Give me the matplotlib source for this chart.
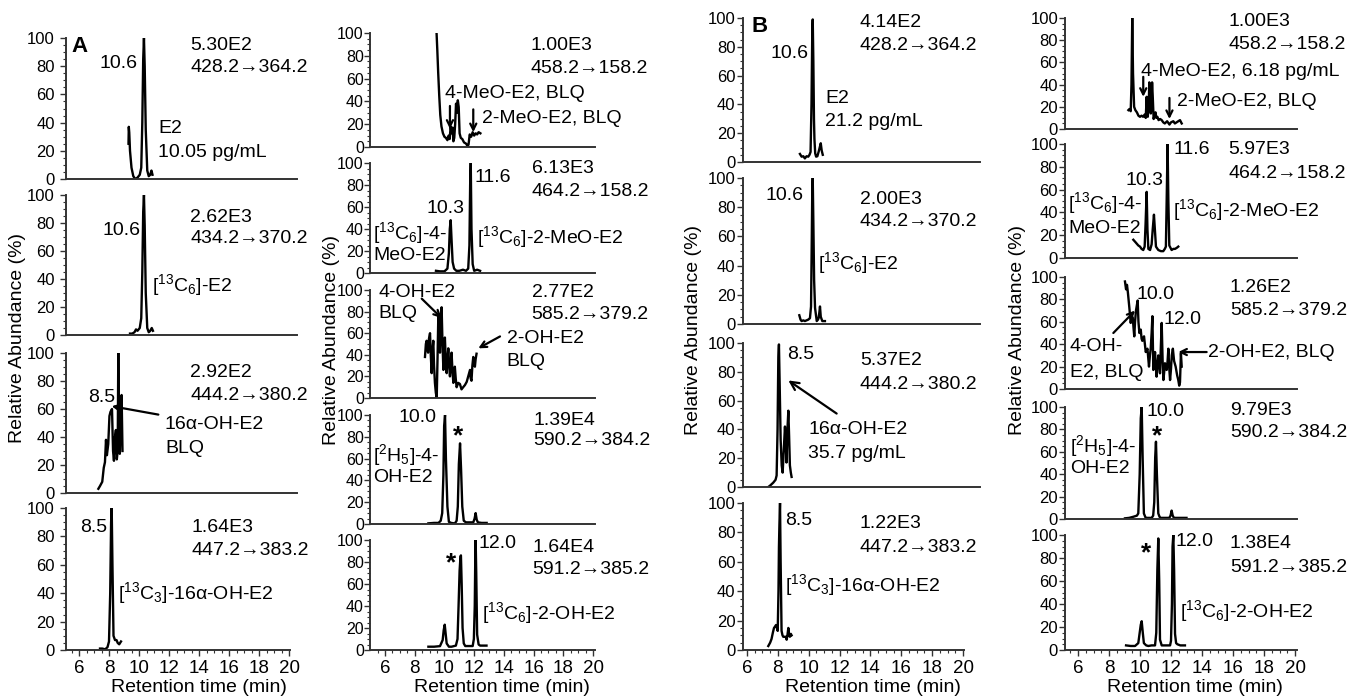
import numpy as np
import matplotlib
matplotlib.use("Agg")
import matplotlib.pyplot as plt
from matplotlib.ticker import MultipleLocator, FixedLocator

plt.rcParams["font.family"] = ["Liberation Sans", "DejaVu Sans"]
plt.rcParams["mathtext.fontset"] = "custom"
plt.rcParams["mathtext.rm"] = "Liberation Sans"
plt.rcParams["mathtext.it"] = "Liberation Sans:italic"
plt.rcParams["mathtext.bf"] = "Liberation Sans:bold"

# ---- traces: retention time (min) / relative abundance (%) ----
# A, left column
e2_A_t = [9.30, 9.32, 9.35, 9.40, 9.50, 9.62, 9.75, 9.90, 10.05, 10.15, 10.22, 10.28, 10.33, 10.38, 10.45, 10.55, 10.65, 10.75, 10.83, 10.90]
e2_A_y = [25, 37, 33, 20, 8, 2, 0, 1, 3, 8, 40, 85, 100, 80, 35, 6, 2, 3, 6, 3]
c13e2_A_t = [9.40, 9.55, 9.70, 9.80, 9.90, 10.05, 10.15, 10.22, 10.28, 10.33, 10.38, 10.45, 10.55, 10.65, 10.75, 10.85, 10.93]
c13e2_A_y = [1, 1, 2, 4, 3, 5, 12, 45, 88, 100, 78, 30, 5, 2, 3, 5, 3]
oh16_A_t = [7.29, 7.40, 7.55, 7.65, 7.73, 7.80, 7.86, 7.95, 8.03, 8.10, 8.20, 8.27, 8.33, 8.40, 8.46, 8.52, 8.58, 8.62, 8.67, 8.72, 8.80, 8.84, 8.90]
oh16_A_y = [3, 5, 8, 18, 22, 38, 27, 35, 55, 58, 60, 30, 23, 40, 45, 24, 30, 100, 30, 28, 60, 70, 30]
c13oh16_A_t = [7.40, 7.55, 7.75, 7.90, 8.00, 8.08, 8.14, 8.18, 8.23, 8.30, 8.40, 8.50, 8.58, 8.68, 8.80]
c13oh16_A_y = [1, 1, 0.5, 2, 6, 40, 90, 100, 60, 10, 7, 7, 5, 4, 6]

# A, right column
meo_A_t = [9.47, 9.52, 9.58, 9.65, 9.72, 9.80, 9.90, 10.00, 10.10, 10.20, 10.28, 10.35, 10.42, 10.48, 10.55, 10.60, 10.66, 10.72, 10.78, 10.84, 10.90, 10.96, 11.02, 11.10, 11.20, 11.32, 11.45, 11.55, 11.62, 11.70, 11.80, 11.90, 12.00, 12.10, 12.20, 12.30, 12.42]
meo_A_y = [100, 85, 65, 45, 28, 18, 12, 9, 8, 6, 10, 7, 18, 12, 17, 5, 8, 20, 38, 30, 41, 35, 12, 8, 7, 4, 3, 1, 2, 11, 9, 13, 10, 12, 11, 13, 12]
c13meo_A_t = [9.43, 9.70, 10.00, 10.20, 10.30, 10.36, 10.42, 10.48, 10.55, 10.65, 10.80, 11.00, 11.25, 11.45, 11.60, 11.68, 11.73, 11.77, 11.82, 11.90, 12.00, 12.20, 12.40]
c13meo_A_y = [2, 1.5, 1.5, 4, 18, 40, 48, 30, 10, 4, 2, 2, 3, 2, 4, 25, 80, 100, 40, 8, 2, 3, 2]
oh_A_t = [8.69, 8.75, 8.80, 8.85, 8.90, 8.96, 9.03, 9.08, 9.14, 9.20, 9.25, 9.30, 9.36, 9.42, 9.48, 9.54, 9.59, 9.64, 9.70, 9.76, 9.81, 9.87, 9.93, 9.98, 10.03, 10.09, 10.15, 10.20, 10.26, 10.32, 10.37, 10.43, 10.48, 10.54, 10.60, 10.65, 10.70, 10.76, 10.82, 10.93, 11.04, 11.15, 11.26, 11.38, 11.50, 11.60, 11.72, 11.77, 11.82, 11.88, 11.94, 12.00, 12.05, 12.10, 12.16]
oh_A_y = [38, 50, 53, 45, 42, 55, 60, 40, 23, 45, 53, 30, 14, 5, 0, 40, 78, 60, 42, 70, 84, 50, 26, 40, 56, 35, 23, 35, 46, 30, 20, 30, 42, 25, 14, 22, 29, 18, 10, 14, 13, 8, 10, 12, 15, 20, 26, 18, 16, 30, 38, 32, 29, 36, 41]
h5oh4_A_t = [8.92, 9.30, 9.60, 9.75, 9.85, 9.93, 9.98, 10.04, 10.10, 10.20, 10.30, 10.45, 10.70, 10.82, 10.90, 10.97, 11.05, 11.12, 11.20, 11.30, 11.45, 11.70, 11.94, 12.03, 12.10, 12.17, 12.25, 12.50, 12.84]
h5oh4_A_y = [0.6, 1, 1, 3, 10, 45, 90, 100, 60, 16, 2, 1, 0.5, 3, 16, 55, 74, 50, 16, 3, 1.5, 1.5, 1.5, 5, 10, 4, 1.5, 1, 1]
c13oh2_A_t = [8.92, 9.30, 9.70, 9.88, 9.95, 10.02, 10.08, 10.15, 10.30, 10.48, 10.77, 10.88, 10.95, 11.02, 11.08, 11.11, 11.16, 11.22, 11.30, 11.40, 11.60, 11.90, 11.98, 12.04, 12.08, 12.10, 12.14, 12.20, 12.30, 12.40, 12.60, 12.83]
c13oh2_A_y = [3, 3, 3.5, 9, 18, 23, 15, 6, 3, 3, 4, 10, 40, 72, 85, 86, 60, 20, 6, 3.6, 3.6, 3.6, 10, 40, 90, 100, 70, 14, 5, 4, 4, 4]

# B, left column
e2_B_t = [9.43, 9.54, 9.65, 9.75, 9.86, 9.97, 10.05, 10.12, 10.18, 10.23, 10.26, 10.30, 10.34, 10.37, 10.42, 10.48, 10.56, 10.64, 10.71, 10.78, 10.84, 10.91]
e2_B_y = [5.6, 3.7, 4, 2.5, 4, 3.7, 5, 7, 40, 90, 99, 70, 30, 16, 6, 3.7, 4, 7, 10, 13, 8, 5]
c13e2_B_t = [9.39, 9.47, 9.54, 9.65, 9.75, 9.86, 9.97, 10.08, 10.15, 10.20, 10.23, 10.26, 10.30, 10.35, 10.41, 10.52, 10.60, 10.64, 10.69, 10.73, 10.78, 10.88, 11.05]
c13e2_B_y = [6, 3, 2, 2.5, 2, 2.5, 3, 4, 12, 60, 92, 100, 70, 30, 11, 2, 3, 4, 8, 12, 5, 2, 2]
oh16_B_t = [7.38, 7.50, 7.70, 7.85, 7.92, 7.98, 8.03, 8.07, 8.12, 8.18, 8.25, 8.31, 8.38, 8.46, 8.51, 8.56, 8.62, 8.68, 8.73, 8.78, 8.84, 8.89]
oh16_B_y = [0, 1, 3, 5, 8, 40, 90, 99, 70, 33, 15, 10, 25, 42, 30, 17, 40, 53, 35, 15, 10, 7]
c13oh16_B_t = [7.38, 7.50, 7.59, 7.68, 7.75, 7.82, 7.88, 7.94, 7.99, 8.04, 8.07, 8.10, 8.14, 8.18, 8.24, 8.30, 8.35, 8.45, 8.52, 8.57, 8.62, 8.68, 8.73, 8.78, 8.84, 8.89]
c13oh16_B_y = [2.7, 5, 7.5, 12, 15, 16, 17, 15, 13, 40, 70, 85, 100, 60, 13, 10, 9, 9, 9, 7, 10, 15, 10, 9, 11, 10]

# B, right column
meo_B_t = [9.25, 9.32, 9.40, 9.45, 9.50, 9.55, 9.62, 9.70, 9.80, 9.90, 10.00, 10.10, 10.20, 10.30, 10.37, 10.43, 10.47, 10.50, 10.56, 10.60, 10.65, 10.70, 10.73, 10.78, 10.82, 10.88, 10.93, 11.00, 11.05, 11.12, 11.20, 11.30, 11.40, 11.50, 11.60, 11.75, 11.90, 12.00, 12.15, 12.25, 12.36, 12.47, 12.58, 12.69]
meo_B_y = [17, 18, 16, 40, 100, 50, 20, 17, 15, 12, 11, 12, 11, 13, 10, 29, 15, 11, 20, 42, 30, 14, 20, 42, 30, 9, 12, 15, 10, 11, 8, 9, 8, 6, 5, 7, 4, 6, 7, 5, 6, 7, 8, 5]
c13meo_B_t = [9.57, 9.70, 9.89, 10.00, 10.10, 10.21, 10.30, 10.36, 10.43, 10.48, 10.54, 10.65, 10.75, 10.82, 10.90, 10.96, 11.03, 11.18, 11.35, 11.50, 11.60, 11.67, 11.72, 11.78, 11.83, 11.89, 12.04, 12.15, 12.26, 12.38, 12.47]
c13meo_B_y = [16, 14, 11, 10, 8, 7, 10, 30, 58, 25, 8, 7, 12, 25, 38, 25, 10, 7, 6, 6, 8, 10, 50, 100, 50, 11, 7, 8, 8, 9, 10]
oh_B_t = [9.03, 9.10, 9.16, 9.22, 9.31, 9.40, 9.47, 9.53, 9.58, 9.63, 9.68, 9.74, 9.80, 9.85, 9.90, 9.96, 10.05, 10.10, 10.15, 10.26, 10.37, 10.48, 10.58, 10.64, 10.69, 10.75, 10.80, 10.86, 10.92, 10.97, 11.02, 11.07, 11.12, 11.18, 11.24, 11.29, 11.35, 11.40, 11.46, 11.51, 11.56, 11.61, 11.67, 11.72, 11.78, 11.83, 11.88, 11.94, 12.00, 12.05, 12.12, 12.20, 12.30, 12.40, 12.47, 12.53, 12.58, 12.64, 12.69]
oh_B_y = [96, 89, 93, 86, 73, 59, 64, 64, 55, 47, 60, 70, 75, 79, 60, 50, 53, 45, 43, 47, 33, 36, 20, 30, 36, 50, 65, 17, 25, 33, 20, 11, 20, 30, 22, 14, 40, 59, 25, 8, 15, 23, 20, 17, 25, 36, 20, 8, 18, 30, 36, 25, 20, 12, 8, 3, 6, 32, 20]
h5oh4_B_t = [9.03, 9.30, 9.57, 9.80, 9.89, 9.98, 10.05, 10.11, 10.17, 10.25, 10.35, 10.43, 10.60, 10.75, 10.85, 10.92, 10.98, 11.03, 11.09, 11.18, 11.26, 11.33, 11.60, 11.89, 11.97, 12.04, 12.11, 12.19, 12.50, 13.00]
h5oh4_B_y = [0.6, 1, 2, 3, 5, 40, 90, 100, 55, 5, 1.5, 1, 1, 1, 3, 15, 55, 69, 40, 5, 2, 1, 1, 1, 3, 7.5, 3, 1, 1, 1]
c13oh2_B_t = [9.10, 9.40, 9.68, 9.89, 9.98, 10.05, 10.11, 10.18, 10.25, 10.40, 10.54, 10.75, 10.97, 11.05, 11.12, 11.18, 11.24, 11.29, 11.40, 11.60, 11.94, 12.00, 12.06, 12.10, 12.15, 12.20, 12.26, 12.33, 12.41, 12.60, 12.90]
c13oh2_B_y = [4, 3.5, 3.5, 6, 15, 22, 25, 15, 6, 4, 3.5, 4, 4, 15, 70, 97, 60, 9, 4, 4, 4, 8, 40, 90, 100, 70, 14, 6, 5, 4, 4]

# ---- layout (pixel geometry of each column of panels) ----
W, H = 1371, 700
COLS = [
    dict(spine=66, px6=79, ppu=15.0, right=297, right_bot=290, pad=4, tls=12,
         rows=[(38, 179), (195, 335), (353, 493), (508, 650)]),
    dict(spine=370, px6=385, ppu=14.86, right=595, right_bot=595, pad=0.5, tls=11.5,
         rows=[(33, 147), (163, 273), (290, 398), (415, 524), (540, 650)]),
    dict(spine=743, px6=747, ppu=15.43, right=980, right_bot=964, pad=1.5, tls=12,
         rows=[(18, 162), (178, 324), (343, 487), (503, 650)]),
    dict(spine=1065, px6=1078, ppu=15.5, right=1297, right_bot=1297, pad=1, tls=12,
         rows=[(18, 129), (144, 258), (277, 389), (407, 519), (535, 650)]),
]
FS = 14
SPINE = "#333333"

fig = plt.figure(figsize=(W / 100, H / 100), dpi=100)


def make_ax(col, row):
    c = COLS[col]
    y100, y0 = c["rows"][row]
    last = row == len(c["rows"]) - 1
    right = c["right_bot"] if last else c["right"]
    ax = fig.add_axes([c["spine"] / W, 1 - y0 / H, (right - c["spine"]) / W, (y0 - y100) / H])
    ax.set_xlim(6 + (c["spine"] - c["px6"]) / c["ppu"], 6 + (right - c["px6"]) / c["ppu"])
    ax.set_ylim(0, 100)
    ax.patch.set_alpha(0)
    for s in ["top", "right"]:
        ax.spines[s].set_visible(False)
    for s in ["left", "bottom"]:
        ax.spines[s].set_linewidth(1.4)
        ax.spines[s].set_color(SPINE)
    ax.yaxis.set_major_locator(MultipleLocator(20))
    ax.yaxis.set_minor_locator(MultipleLocator(5))
    ax.tick_params(axis="y", which="major", length=4, width=1, labelsize=c["tls"], pad=c["pad"], color=SPINE)
    ax.tick_params(axis="y", which="minor", length=2, width=0.8, color=SPINE)
    if last:
        ax.xaxis.set_major_locator(FixedLocator(range(6, 21, 2)))
        ax.xaxis.set_minor_locator(FixedLocator(np.arange(5.5, 20.01, 0.5)))
        ax.tick_params(axis="x", which="major", length=4, width=1, labelsize=13.5, pad=3.5, color=SPINE)
        ax.tick_params(axis="x", which="minor", length=2.5, width=0.8, color=SPINE)
    else:
        ax.tick_params(axis="x", which="both", bottom=False, labelbottom=False)
    return ax


def trace(ax, t, y):
    ax.plot(t, y, color="black", lw=1.7, clip_on=True)


def T(ax, x, y, s, ha="left", size=FS, **kw):
    ax.text(x, y, s, ha=ha, va="center", fontsize=size, **kw)


def star(ax, x, y):
    ax.text(x, y, "*", ha="center", va="center", fontsize=19, fontweight="bold")


def arrow(ax, tail, tip, ms=11):
    ax.annotate("", xy=tip, xytext=tail,
                arrowprops=dict(arrowstyle="->", lw=1.6, color="black",
                                shrinkA=0, shrinkB=0, mutation_scale=ms))


C6 = r"[$^{13}$C$_6$]"
C3 = r"[$^{13}$C$_3$]"
H5 = r"[$^{2}$H$_5$]"

# ---------- A, left column ----------
ax = make_ax(0, 0)
trace(ax, e2_A_t, e2_A_y)
T(ax, 9.93, 82, "10.6", ha="right")
T(ax, 13.4, 95, "5.30E2")
T(ax, 13.4, 79, "428.2→364.2")
T(ax, 11.27, 36, "E2")
T(ax, 11.27, 19, "10.05 pg/mL")

ax = make_ax(0, 1)
trace(ax, c13e2_A_t, c13e2_A_y)
T(ax, 10.07, 75, "10.6", ha="right")
T(ax, 13.4, 84, "2.62E3")
T(ax, 13.4, 69, "434.2→370.2")
T(ax, 10.87, 36, C6 + "-E2")

ax = make_ax(0, 2)
trace(ax, oh16_A_t, oh16_A_y)
T(ax, 8.4, 68, "8.5", ha="right")
T(ax, 13.4, 86, "2.92E2")
T(ax, 13.4, 70, "444.2→380.2")
T(ax, 11.73, 49, "16α-OH-E2")
T(ax, 11.73, 32, "BLQ")
arrow(ax, (11.29, 56), (8.18, 62), ms=8)

ax = make_ax(0, 3)
trace(ax, c13oh16_A_t, c13oh16_A_y)
T(ax, 7.86, 86, "8.5", ha="right")
T(ax, 13.5, 86, "1.64E3")
T(ax, 13.5, 70, "447.2→383.2")
T(ax, 8.6, 40, C3 + "-16α-OH-E2")

# ---------- A, right column ----------
ax = make_ax(1, 0)
trace(ax, meo_A_t, meo_A_y)
T(ax, 15.76, 89, "1.00E3")
T(ax, 15.76, 69, "458.2→158.2")
T(ax, 10.04, 47, "4-MeO-E2, BLQ")
arrow(ax, (10.37, 36), (10.37, 16))
arrow(ax, (11.94, 33), (11.94, 13))
T(ax, 12.5, 25, "2-MeO-E2, BLQ")

ax = make_ax(1, 1)
trace(ax, c13meo_A_t, c13meo_A_y)
T(ax, 10.1, 59, "10.3", ha="center")
T(ax, 12.0, 87, "11.6")
T(ax, 15.87, 95, "6.13E3")
T(ax, 15.87, 74, "464.2→158.2")
T(ax, 5.2, 36, C6 + "-4-")
T(ax, 5.2, 16, "MeO-E2")
T(ax, 12.17, 33, C6 + "-2-MeO-E2")

ax = make_ax(1, 2)
trace(ax, oh_A_t, oh_A_y)
T(ax, 5.53, 98, "4-OH-E2")
T(ax, 5.53, 78, "BLQ")
arrow(ax, (8.47, 92), (9.81, 74))
T(ax, 14.19, 55, "2-OH-E2")
T(ax, 14.19, 34, "BLQ")
arrow(ax, (13.74, 57), (12.28, 46))
T(ax, 15.87, 98, "2.77E2")
T(ax, 15.87, 77, "585.2→379.2")

ax = make_ax(1, 3)
trace(ax, h5oh4_A_t, h5oh4_A_y)
T(ax, 9.48, 98, "10.0", ha="right")
star(ax, 10.94, 80)
T(ax, 5.2, 63, H5 + "-4-")
T(ax, 5.2, 43, "OH-E2")
T(ax, 15.98, 95, "1.39E4")
T(ax, 15.98, 77, "590.2→384.2")

ax = make_ax(1, 4)
trace(ax, c13oh2_A_t, c13oh2_A_y)
star(ax, 10.42, 79)
T(ax, 12.28, 97, "12.0")
T(ax, 15.94, 93, "1.64E4")
T(ax, 15.94, 73, "591.2→385.2")
T(ax, 12.5, 34, C6 + "-2-OH-E2")

# ---------- B, left column ----------
ax = make_ax(2, 0)
trace(ax, e2_B_t, e2_B_y)
T(ax, 9.97, 75, "10.6", ha="right")
T(ax, 13.32, 97, "4.14E2")
T(ax, 13.32, 81, "428.2→364.2")
T(ax, 11.05, 44, "E2")
T(ax, 11.05, 28, "21.2 pg/mL")

ax = make_ax(2, 1)
trace(ax, c13e2_B_t, c13e2_B_y)
T(ax, 9.65, 88, "10.6", ha="right")
T(ax, 13.32, 85, "2.00E3")
T(ax, 13.32, 70, "434.2→370.2")
T(ax, 10.62, 42, C6 + "-E2")

ax = make_ax(2, 2)
trace(ax, oh16_B_t, oh16_B_y)
T(ax, 8.57, 92, "8.5")
T(ax, 13.32, 88, "5.37E2")
T(ax, 13.32, 71, "444.2→380.2")
arrow(ax, (11.81, 51), (8.68, 74), ms=15)
T(ax, 9.97, 40, "16α-OH-E2")
T(ax, 9.97, 23, "35.7 pg/mL")

ax = make_ax(2, 3)
trace(ax, c13oh16_B_t, c13oh16_B_y)
T(ax, 8.46, 88, "8.5")
T(ax, 13.32, 86, "1.22E3")
T(ax, 13.32, 70, "447.2→383.2")
T(ax, 8.46, 44, C3 + "-16α-OH-E2")

# ---------- B, right column ----------
ax = make_ax(3, 0)
trace(ax, meo_B_t, meo_B_y)
T(ax, 15.7, 97, "1.00E3")
T(ax, 15.7, 76, "458.2→158.2")
T(ax, 10.06, 52, "4-MeO-E2, 6.18 pg/mL")
arrow(ax, (10.21, 47), (10.21, 29))
T(ax, 12.37, 25, "2-MeO-E2, BLQ")
arrow(ax, (11.9, 28), (11.9, 9))

ax = make_ax(3, 1)
trace(ax, c13meo_B_t, c13meo_B_y)
T(ax, 10.26, 68, "10.3", ha="center")
T(ax, 12.15, 95, "11.6")
T(ax, 15.7, 95, "5.97E3")
T(ax, 15.7, 74, "464.2→158.2")
T(ax, 5.37, 48, C6 + "-4-")
T(ax, 5.37, 26, "MeO-E2")
T(ax, 12.15, 42, C6 + "-2-MeO-E2")

ax = make_ax(3, 2)
trace(ax, oh_B_t, oh_B_y)
T(ax, 15.8, 91, "1.26E2")
T(ax, 15.8, 70, "585.2→379.2")
T(ax, 9.78, 84, "10.0")
T(ax, 11.5, 62, "12.0")
T(ax, 5.48, 38, "4-OH-")
T(ax, 5.48, 15, "E2, BLQ")
arrow(ax, (8.28, 50), (9.68, 70))
T(ax, 14.39, 33, "2-OH-E2, BLQ")
arrow(ax, (14.3, 33), (12.47, 33))

ax = make_ax(3, 3)
trace(ax, h5oh4_B_t, h5oh4_B_y)
T(ax, 10.39, 96, "10.0")
star(ax, 11.08, 74)
T(ax, 15.8, 97, "9.79E3")
T(ax, 15.8, 77, "590.2→384.2")
T(ax, 5.48, 65, H5 + "-4-")
T(ax, 5.48, 45, "OH-E2")

ax = make_ax(3, 4)
trace(ax, c13oh2_B_t, c13oh2_B_y)
star(ax, 10.39, 84)
T(ax, 12.32, 94, "12.0")
T(ax, 15.8, 93, "1.38E4")
T(ax, 15.8, 72, "591.2→385.2")
T(ax, 12.58, 34, C6 + "-2-OH-E2")

# ---------- figure-level labels ----------
for xpx, ypx in [(18, 338), (331, 340), (694, 330), (1017, 330)]:
    fig.text(xpx / W, 1 - ypx / H, "Relative Abundance (%)", rotation=90,
             ha="center", va="center", fontsize=14)
for xpx in [199, 502, 873, 1195]:
    fig.text(xpx / W, 1 - 687 / H, "Retention time (min)", ha="center", va="center", fontsize=14)
fig.text(80 / W, 1 - 46 / H, "A", ha="center", va="center", fontsize=16, fontweight="bold")
fig.text(760 / W, 1 - 26 / H, "B", ha="center", va="center", fontsize=16, fontweight="bold")

fig.savefig("out.png", dpi=100)
